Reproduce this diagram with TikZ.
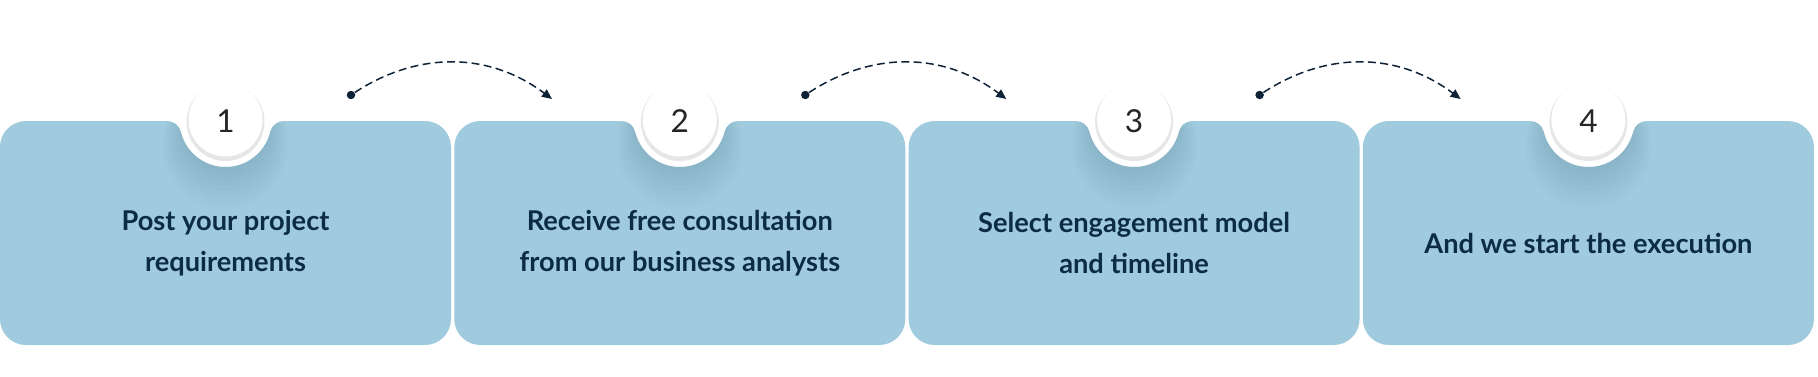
\documentclass[tikz,border=0pt]{standalone}
\usepackage{fontspec}
\setmainfont{Lato}
\usetikzlibrary{arrows.meta,positioning}
\definecolor{card}{HTML}{A0CADD}
\definecolor{ink}{HTML}{0C2B45}
\definecolor{navy}{HTML}{0E2237}
\definecolor{rim}{HTML}{E4E6E8}
% one step card, notch round the number disc at its top
\newcommand{\cardshape}{(0,57) -- (0,229) arc[start angle=180,end angle=90,radius=26]
  -- (167.2,255) arc[start angle=90,end angle=13.5,radius=14]
  arc[start angle=193.5,end angle=346.5,radius=46]
  arc[start angle=166.5,end angle=90,radius=14]
  -- (425,255) arc[start angle=90,end angle=0,radius=26]
  -- (451,57) arc[start angle=0,end angle=-90,radius=26]
  -- (26,31) arc[start angle=270,end angle=180,radius=26] -- cycle}

\begin{document}
\begin{tikzpicture}[x=0.02cm,y=0.02cm,
  steptxt/.style={align=center,text=ink,font=\fontsize{15.5}{23}\selectfont\bfseries},
  numtxt/.style={text=black!85,font=\fontsize{18}{18}\selectfont},
  dot/.style={circle,fill=navy,inner sep=0pt,minimum size=0.17cm},
  flow/.style={navy,line width=0.85pt,dash pattern=on 4.5pt off 2.5pt,-{Triangle[length=5.7pt,width=5pt]}}]
  \useasboundingbox (0,0) rectangle (1818,376);
  \foreach \i/\txt in {1/{Post your project\\requirements},2/{Receive free consultation\\from our business analysts},3/{Select engagement model\\and timeline},4/{And we start the execution}}{
    \begin{scope}[shift={({(\i-1)*454.3},0)}]
      \fill[card] \cardshape;
      \begin{scope}
        \clip \cardshape;
        \foreach \k in {1,...,8}{\fill[navy,opacity=0.014] (225.5,{254-3*\k}) circle ({39+3*\k});}
      \end{scope}
      \fill[rim] (225.5,254) circle (39);
      \fill[white] (225.5,256.5) circle (37);
      \node[numtxt] (num\i) at (225.5,255) {\i};
      \node[steptxt] (txt\i) at (225.5,133) {\txt};
      \ifnum\i<4
        \node[dot] (s\i) at (351,281) {};
        \coordinate (e\i) at (552,277);
        \draw[flow] (s\i) to[bend left=35] (e\i);
      \fi
    \end{scope}
  }
\end{tikzpicture}
\end{document}
